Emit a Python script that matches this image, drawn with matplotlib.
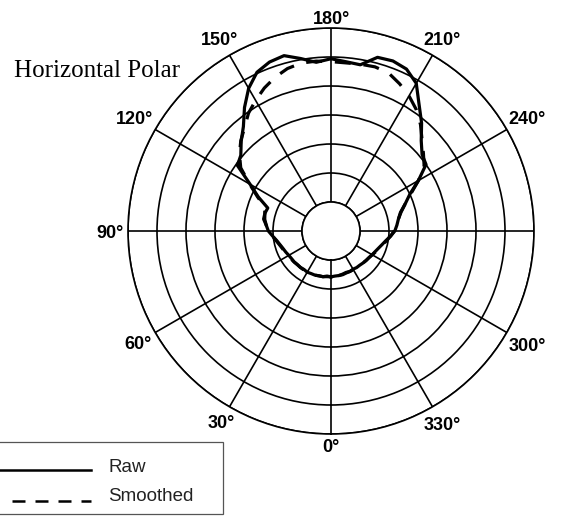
import numpy as np
import matplotlib.pyplot as plt
from matplotlib.lines import Line2D
from matplotlib.patches import Rectangle

# angles in degrees (0 at the bottom, clockwise), levels in dB
angles_deg = list(range(0, 360, 5))
raw_db = [
    -27.1, -27.2, -27.0, -27.0, -26.9, -26.9, -26.8, -26.9, -26.8, -26.8,
    -26.7, -26.7, -26.6, -26.4, -26.2, -25.9, -25.5, -24.9, -24.2, -23.8,
    -23.2, -23.2, -23.4, -21.2, -18.9, -15.3, -14.7, -13.1, -11.5, -9.0,
    -6.6, -4.8, -4.0, -3.7, -4.8, -5.8, -5.3, -5.7, -5.9, -4.0,
    -3.8, -4.2, -5.6, -8.5, -10.7, -13.0, -14.5, -15.0, -17.6, -20.0,
    -21.4, -22.6, -23.2, -23.6, -24.0, -24.7, -25.4, -25.9, -26.3, -26.6,
    -26.8, -27.0, -27.1, -27.2, -27.3, -27.3, -27.4, -27.3, -27.4, -27.3,
    -27.2, -27.2,
]
smoothed_db = [
    -27.1, -27.1, -27.0, -27.0, -26.9, -26.9, -26.9, -26.8, -26.8, -26.8,
    -26.7, -26.6, -26.5, -26.3, -26.1, -25.8, -25.4, -24.9, -24.3, -23.8,
    -23.4, -23.2, -22.8, -21.0, -18.8, -16.0, -14.4, -13.0, -11.8, -10.2,
    -9.0, -7.8, -6.8, -6.0, -5.6, -5.6, -5.8, -5.9, -5.8, -5.7,
    -6.0, -7.0, -8.1, -9.4, -11.0, -12.8, -14.2, -15.4, -17.6, -19.8,
    -21.4, -22.5, -23.2, -23.7, -24.1, -24.7, -25.3, -25.8, -26.2, -26.5,
    -26.8, -27.0, -27.1, -27.2, -27.3, -27.3, -27.3, -27.3, -27.3, -27.2,
    -27.2, -27.1,
]
ring_levels = [-30, -25, -20, -15, -10, -5, 0]
label_angles = [0, 30, 60, 90, 120, 150, 180, 210, 240, 270, 300, 330]
shown_labels = [0, 30, 60, 90, 120, 150, 180, 210, 240, 300, 330]

W, H = 562, 517
fig = plt.figure(figsize=(W / 100, H / 100), dpi=100)
cx, cy, R = 331, 231, 203
ax = fig.add_axes([(cx - R) / W, (H - cy - R) / H, 2 * R / W, 2 * R / H],
                  projection='polar')
ax.set_theta_zero_location('S')
ax.set_theta_direction(-1)
ax.set_rorigin(-35)
ax.set_ylim(-30, 0)
ax.set_rgrids(ring_levels, labels=[])
ax.set_thetagrids(label_angles, labels=[])
ax.tick_params(length=0)
ax.grid(True, color='black', lw=1.2)
ax.spines['polar'].set_linewidth(1.2)
ax.spines['inner'].set_linewidth(1.2)

theta = np.deg2rad(angles_deg + [angles_deg[0]])
ax.plot(theta, smoothed_db + [smoothed_db[0]], color='black', lw=2.3,
        ls=(0, (5, 4)))
ax.plot(theta, raw_db + [raw_db[0]], color='black', lw=2.3)

# angle labels just outside the outer ring
for a in shown_labels:
    t = np.deg2rad(a)
    w = 10 * len(str(a)) + 7
    d = 4.5 + 0.5 * (w * abs(np.sin(t)) + 13 * abs(np.cos(t)))
    ax.annotate(f"{a}°", xy=(t, 0), xytext=(-d * np.sin(t), -d * np.cos(t) - 6.5),
                textcoords='offset pixels', ha='center', va='baseline',
                fontsize=13, fontweight='bold', family='Liberation Sans',
                annotation_clip=False)

fig.text(14 / W, 1 - 77.3 / H, 'Horizontal Polar', family='Liberation Serif',
         fontsize=18, ha='left', va='baseline')

# legend box, cut off at the left edge
fig.add_artist(Rectangle((-5 / W, 1 - 514 / H), 228 / W, 72 / H,
                         transform=fig.transFigure, fill=False,
                         ec='#555555', lw=0.9))
fig.add_artist(Line2D([0, 91 / W], [1 - 470 / H] * 2, transform=fig.transFigure,
                      color='black', lw=1.8))
fig.add_artist(Line2D([12 / W, 91 / W], [1 - 501 / H] * 2, transform=fig.transFigure,
                      color='black', lw=1.8, ls=(0, (5.2, 4))))
fig.text(108 / W, 1 - 471.7 / H, 'Raw', family='Liberation Sans', fontsize=13.5,
         va='baseline', color='#222222')
fig.text(108 / W, 1 - 501 / H, 'Smoothed', family='Liberation Sans', fontsize=13.5,
         va='baseline', color='#222222')

fig.savefig('out.png', dpi=100)
